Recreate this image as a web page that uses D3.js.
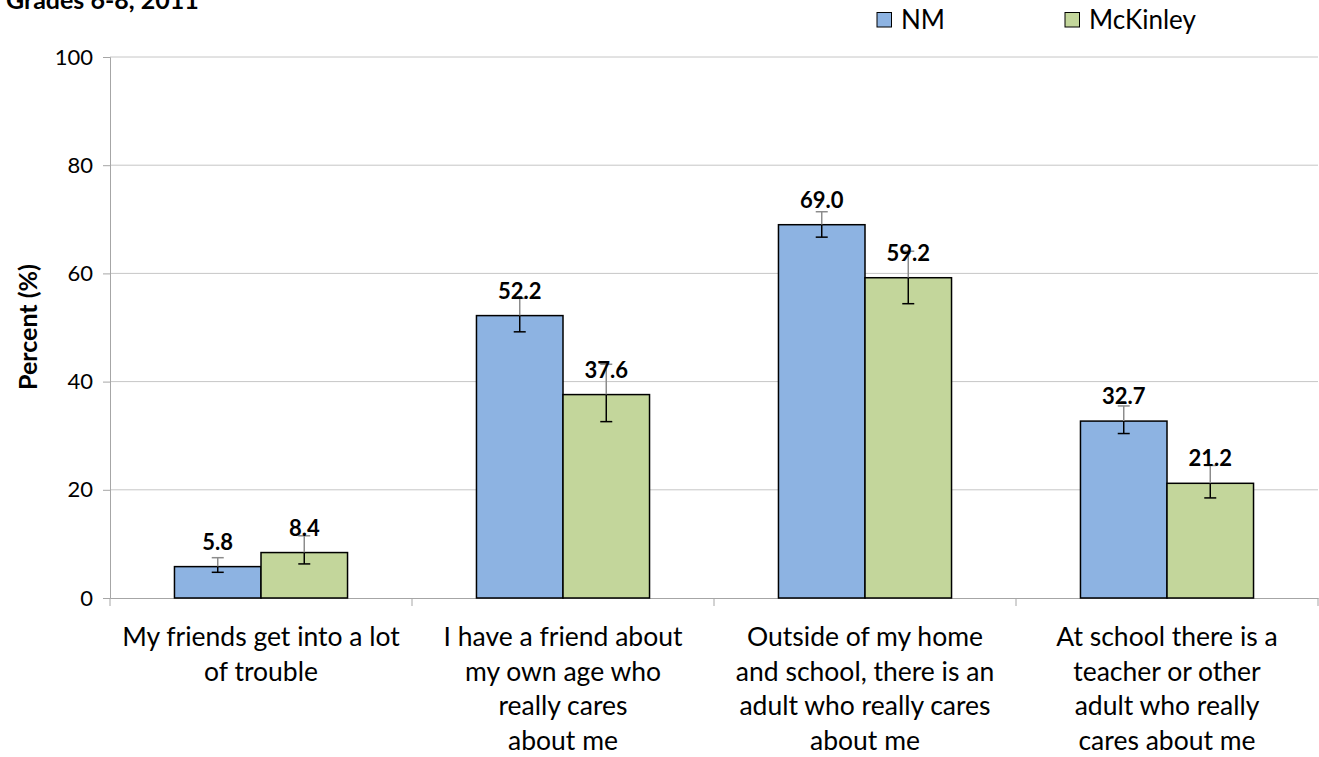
<!DOCTYPE html>
<html lang="en">
<head>
<meta charset="utf-8">
<title>Grades 6-8, 2011</title>
<script src="https://d3js.org/d3.v7.min.js"></script>
<style>
  body { margin: 0; background: #fff; }
  text { font-family: Lato, "Open Sans", sans-serif; }
</style>
</head>
<body>
<script>
const categories = [
  ["My friends get into a lot", "of trouble"],
  ["I have a friend about", "my own age who", "really cares", "about me"],
  ["Outside of my home", "and school, there is an", "adult who really cares", "about me"],
  ["At school there is a", "teacher or other", "adult who really", "cares about me"]
];
const seriesNames = ["NM", "McKinley"];
const nmValues = [5.8, 52.2, 69.0, 32.7];
const nmLow = [4.75, 49.2, 66.7, 30.4];
const nmHigh = [7.45, 55.4, 71.4, 35.5];
const mkValues = [8.4, 37.6, 59.2, 21.2];
const mkLow = [6.3, 32.6, 54.4, 18.5];
const mkHigh = [11.5, 43.2, 64.1, 24.5];
const yTicks = [0, 20, 40, 60, 80, 100];
const colors = ["#8DB3E2", "#C3D69B"];

const width = 1319, height = 757;
const margin = {left: 110, right: 1, top: 57, bottom: 159};

const svg = d3.select("body").append("svg")
  .attr("width", width).attr("height", height);

const x0 = d3.scaleBand().domain(d3.range(categories.length))
  .range([margin.left, width - margin.right]).paddingInner(0).paddingOuter(0);
const x1 = d3.scaleBand().domain(seriesNames)
  .range([0, x0.bandwidth()]).paddingInner(0).paddingOuter(0.745);
const y = d3.scaleLinear().domain([0, 100]).range([height - margin.bottom, margin.top]);

// gridlines
svg.append("g").selectAll("line").data(yTicks.filter(d => d > 0)).join("line")
  .attr("x1", margin.left).attr("x2", width - margin.right)
  .attr("y1", d => y(d)).attr("y2", d => y(d))
  .attr("stroke", "#c6c6c6").attr("stroke-width", 1);

// y axis
const yAxis = svg.append("g").attr("transform", `translate(${margin.left},0)`)
  .call(d3.axisLeft(y).tickValues(yTicks).tickSize(7).tickPadding(10));
yAxis.select(".domain").attr("stroke", "#a6a6a6");
yAxis.selectAll(".tick line").attr("stroke", "#a6a6a6");
yAxis.selectAll(".tick text").attr("font-size", 22).attr("fill", "#000")
  .style("font-family", "Lato, sans-serif");

// x axis
const xAxis = svg.append("g").attr("transform", `translate(0,${y(0)})`)
  .call(d3.axisBottom(x0).tickValues([]).tickSizeOuter(0));
xAxis.select(".domain").attr("stroke", "#a6a6a6");
const bounds = d3.range(categories.length + 1).map(i => i < categories.length ? x0(i) : x0(i - 1) + x0.bandwidth());
xAxis.selectAll("line.sep").data(bounds).join("line").attr("class", "sep")
  .attr("x1", d => d).attr("x2", d => d).attr("y1", 0).attr("y2", 8)
  .attr("stroke", "#a6a6a6");

// category labels
categories.forEach((lines, i) => {
  const t = svg.append("text")
    .attr("x", x0(i) + x0.bandwidth() / 2)
    .attr("y", 646)
    .attr("text-anchor", "middle")
    .attr("font-size", 26.5).attr("fill", "#000");
  lines.forEach((ln, j) => {
    t.append("tspan").attr("x", x0(i) + x0.bandwidth() / 2)
      .attr("dy", j === 0 ? 0 : 34.5).text(ln);
  });
});

// bars
const series = [
  {name: "NM", values: nmValues, low: nmLow, high: nmHigh},
  {name: "McKinley", values: mkValues, low: mkLow, high: mkHigh}
];
series.forEach((s, si) => {
  const g = svg.append("g");
  s.values.forEach((v, i) => {
    const bx = x0(i) + x1(s.name);
    const cx = bx + x1.bandwidth() / 2;
    g.append("rect")
      .attr("x", bx).attr("y", y(v))
      .attr("width", x1.bandwidth()).attr("height", y(0) - y(v))
      .attr("fill", colors[si]).attr("stroke", "#000").attr("stroke-width", 1.5);
    // error bar: upper part (gray), lower part (black)
    g.append("line").attr("x1", cx).attr("x2", cx)
      .attr("y1", y(s.high[i])).attr("y2", y(v))
      .attr("stroke", "#8c8c8c").attr("stroke-width", 1.5);
    g.append("line").attr("x1", cx - 6).attr("x2", cx + 6)
      .attr("y1", y(s.high[i])).attr("y2", y(s.high[i]))
      .attr("stroke", "#8c8c8c").attr("stroke-width", 1.5);
    g.append("line").attr("x1", cx).attr("x2", cx)
      .attr("y1", y(v)).attr("y2", y(s.low[i]))
      .attr("stroke", "#000").attr("stroke-width", 1.5);
    g.append("line").attr("x1", cx - 6).attr("x2", cx + 6)
      .attr("y1", y(s.low[i])).attr("y2", y(s.low[i]))
      .attr("stroke", "#000").attr("stroke-width", 1.5);
    g.append("text")
      .attr("x", cx).attr("y", y(v) - 17)
      .attr("text-anchor", "middle")
      .attr("font-size", 22).attr("font-weight", "bold").attr("fill", "#000")
      .text(v.toFixed(1));
  });
});

// y axis title
svg.append("text")
  .attr("transform", "translate(37,327) rotate(-90)")
  .attr("text-anchor", "middle")
  .attr("font-size", 25).attr("font-weight", "bold")
  .text("Percent (%)");

// title (cropped at top, as in the source)
svg.append("text").attr("x", 6).attr("y", 9)
  .attr("font-size", 25).attr("font-weight", "bold")
  .text("Grades 6-8, 2011");

// legend
const legendX = [877, 1065];
seriesNames.forEach((n, i) => {
  svg.append("rect").attr("x", legendX[i]).attr("y", 12.5)
    .attr("width", 14.5).attr("height", 14.5)
    .attr("fill", colors[i]).attr("stroke", "#000").attr("stroke-width", 1);
  svg.append("text").attr("x", legendX[i] + 24).attr("y", 29)
    .attr("font-size", 26).text(n);
});
</script>
</body>
</html>
